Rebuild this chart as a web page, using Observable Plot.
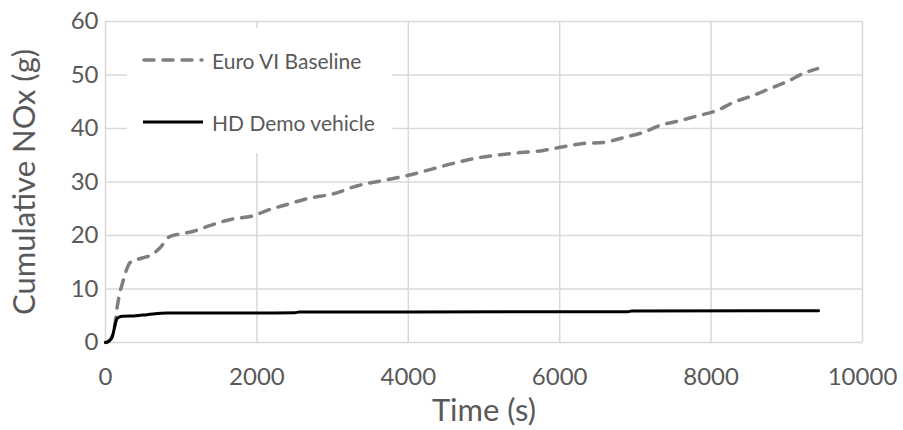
<!DOCTYPE html>
<html>
<head>
<meta charset="utf-8">
<script src="https://cdn.jsdelivr.net/npm/d3@7"></script>
<script src="https://cdn.jsdelivr.net/npm/@observablehq/plot@0.6"></script>
<style>
  body { margin: 0; background: #fff; }
  #wrap { position: relative; width: 903px; height: 430px; font-family: Lato, "Open Sans", sans-serif; }
  #legend { position: absolute; left: 127px; top: 28px; width: 265px; height: 125px; background: #fff; }
</style>
</head>
<body>
<div id="wrap"></div>
<script>
const seriesNames = ["Euro VI Baseline", "HD Demo vehicle"];
const euroTime = [0, 60, 120, 154, 234, 330, 484, 594, 727, 836, 990, 1163, 1387, 1651, 1956, 2136, 2400, 2668, 3012, 3329, 3672, 3989, 4333, 4597, 4954, 5218, 5482, 5786, 6050, 6314, 6578, 6843, 7107, 7332, 7596, 7834, 8085, 8296, 8520, 8785, 9009, 9220, 9406];
const euroNOx  = [0, 0.5, 3.0, 6.6, 11.6, 15.0, 15.8, 16.3, 17.8, 19.7, 20.3, 20.8, 21.9, 23.0, 23.7, 24.7, 25.8, 26.9, 27.8, 29.3, 30.3, 31.2, 32.5, 33.5, 34.6, 35.1, 35.5, 35.9, 36.6, 37.2, 37.4, 38.3, 39.3, 40.6, 41.5, 42.4, 43.4, 44.9, 46.0, 47.5, 48.8, 50.3, 51.2];
const demoTime = [0, 40, 88, 130, 154, 220, 400, 551, 815, 1500, 2500, 2560, 4000, 6900, 6950, 9419];
const demoNOx  = [0, 0.2, 1.0, 3.5, 4.5, 4.9, 5.0, 5.2, 5.5, 5.5, 5.55, 5.7, 5.72, 5.75, 5.9, 5.95];
const xTicks = [0, 2000, 4000, 6000, 8000, 10000];
const yTicks = [0, 10, 20, 30, 40, 50, 60];
const xTitle = "Time (s)";
const yTitle = "Cumulative NOx (g)";

const euro = euroTime.map((t, i) => ({t, v: euroNOx[i]}));
const demo = demoTime.map((t, i) => ({t, v: demoNOx[i]}));

const textColor = "#595959";
const gridColor = "#d9d9d9";

const chart = Plot.plot({
  width: 903,
  height: 430,
  marginLeft: 105,
  marginRight: 41,
  marginTop: 21,
  marginBottom: 88,
  style: { fontFamily: "Lato, 'Open Sans', sans-serif", background: "#fff", overflow: "visible" },
  x: { domain: [0, 10000] },
  y: { domain: [0, 60] },
  marks: [
    Plot.gridX(xTicks, { stroke: gridColor, strokeOpacity: 1, strokeWidth: 1.5 }),
    Plot.gridY(yTicks, { stroke: gridColor, strokeOpacity: 1, strokeWidth: 1.5 }),
    Plot.axisX(xTicks, { tickSize: 0, tickPadding: 25, fontSize: 24, fill: textColor, label: null, tickFormat: d => String(d) }),
    Plot.axisY(yTicks, { tickSize: 0, tickPadding: 7, fontSize: 24, fill: textColor, label: null, tickFormat: d => String(d) }),
    Plot.line(euro, { x: "t", y: "v", stroke: "#7f7f7f", strokeWidth: 3.5, strokeDasharray: "10,9", strokeLinecap: "round", curve: "monotone-x" }),
    Plot.line(demo, { x: "t", y: "v", stroke: "#000", strokeWidth: 3, curve: "monotone-x" }),
    Plot.text([xTitle], { text: d => d, frameAnchor: "bottom", dy: 69, fontSize: 31, fill: textColor, lineAnchor: "middle", textAnchor: "middle" }),
    Plot.text([yTitle], { text: d => d, frameAnchor: "left", dx: -80, rotate: -90, fontSize: 31, fill: textColor, lineAnchor: "middle", textAnchor: "middle" })
  ]
});

const wrap = document.getElementById("wrap");
wrap.appendChild(chart);

const legend = document.createElement("div");
legend.id = "legend";
legend.innerHTML = `
<svg width="265" height="125" xmlns="http://www.w3.org/2000/svg" style="font-family: Lato, 'Open Sans', sans-serif">
  <line x1="17" x2="75" y1="32" y2="32" stroke="#7f7f7f" stroke-width="3.5" stroke-dasharray="10,9" stroke-linecap="round"/>
  <text x="85" y="32" dominant-baseline="central" font-size="21" fill="${textColor}">${seriesNames[0]}</text>
  <line x1="16" x2="76" y1="94" y2="94" stroke="#000" stroke-width="3"/>
  <text x="85" y="94" dominant-baseline="central" font-size="21" fill="${textColor}">${seriesNames[1]}</text>
</svg>`;
wrap.appendChild(legend);
</script>
</body>
</html>
